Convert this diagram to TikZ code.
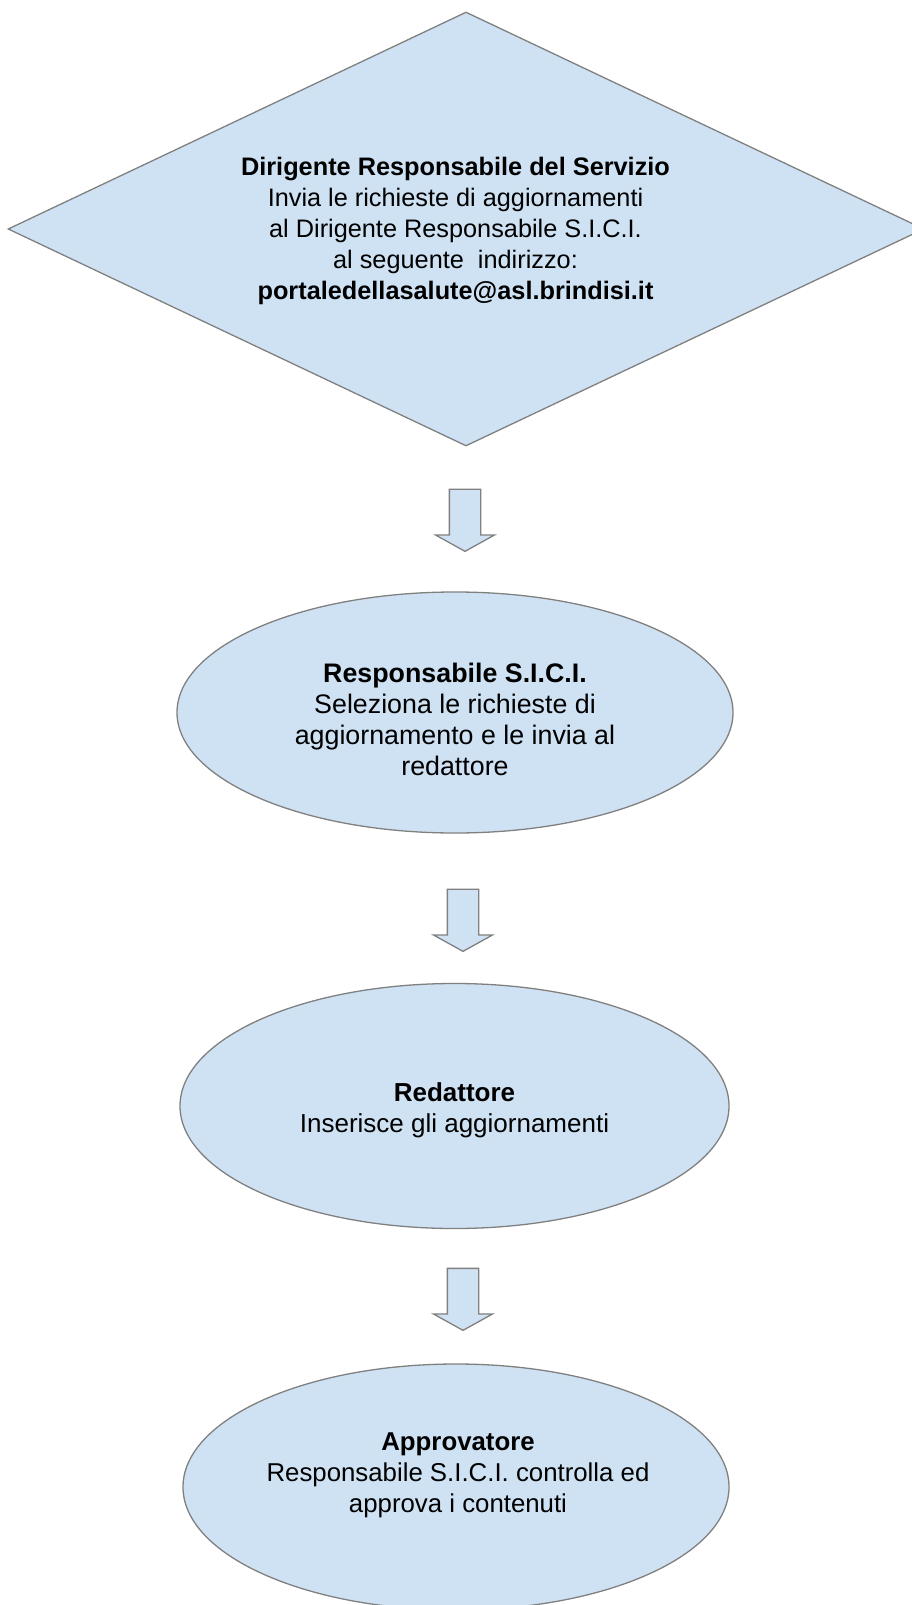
\documentclass[tikz,border=0pt]{standalone}
\usepackage{fontspec}
\setmainfont{Liberation Sans}
\usepackage{tikz}
\usetikzlibrary{shapes, arrows, positioning}
\definecolor{boxblue}{RGB}{207,226,243}
\definecolor{linegray}{RGB}{128,128,128}

\begin{document}
\begin{tikzpicture}[auto,
        box/.style={draw=linegray, fill=boxblue, line width=1.3pt, inner sep=0pt},
        blockarrow/.style={box, shape=single arrow, shape border rotate=270, inner sep=15pt,
            single arrow head extend=14pt, single arrow tip angle=122, minimum height=62pt},
        txt/.style={align=center, font=\fontsize{#1}{31pt}\selectfont},
        txt/.default=26pt]

        \fill[white] (0,0) rectangle (911pt,-1605pt);
        \useasboundingbox (0,0) rectangle (911pt,-1605pt);

        \node (dirigente) [box, diamond, aspect=2.11, minimum width=916pt, minimum height=434pt] at (466pt,-229pt) {};
        \node (arrow1) [blockarrow, below of=dirigente, node distance=287pt, xshift=-1pt] {};
        \node (sici) [box, ellipse, minimum width=556pt, minimum height=241pt, below of=arrow1, node distance=196.5pt, xshift=-10pt] {};
        \node (arrow2) [blockarrow, below of=sici, node distance=203.5pt, xshift=8pt] {};
        \node (redattore) [box, ellipse, minimum width=549pt, minimum height=245pt, below of=arrow2, node distance=190pt, xshift=-8.5pt] {};
        \node (arrow3) [blockarrow, below of=redattore, node distance=189pt, xshift=8.5pt] {};
        \node (approvatore) [box, ellipse, minimum width=546pt, minimum height=246pt, below of=arrow3, node distance=192pt, xshift=-7pt] {};

        \node (dirigentetxt) [txt=25.3pt, xshift=-10.5pt, yshift=-2pt] at (dirigente) {\textbf{Dirigente Responsabile del Servizio}\\ Invia le richieste di aggiornamenti\\ al Dirigente Responsabile S.I.C.I.\\ al seguente\ \ indirizzo:\\ \textbf{portaledellasalute@asl.brindisi.it}};
        \node (sicitxt) [txt=26.8pt, yshift=-7pt] at (sici) {\textbf{Responsabile S.I.C.I.}\\ Seleziona le richieste di\\ aggiornamento e le invia al\\ redattore};
        \node (redattoretxt) [txt=26pt, yshift=-4pt] at (redattore) {\textbf{Redattore}\\ Inserisce gli aggiornamenti};
        \node (approvatoretxt) [txt=25.8pt, xshift=2pt, yshift=12pt] at (approvatore) {\textbf{Approvatore}\\ Responsabile S.I.C.I. controlla ed\\ approva i contenuti};
    \end{tikzpicture}
\end{document}
